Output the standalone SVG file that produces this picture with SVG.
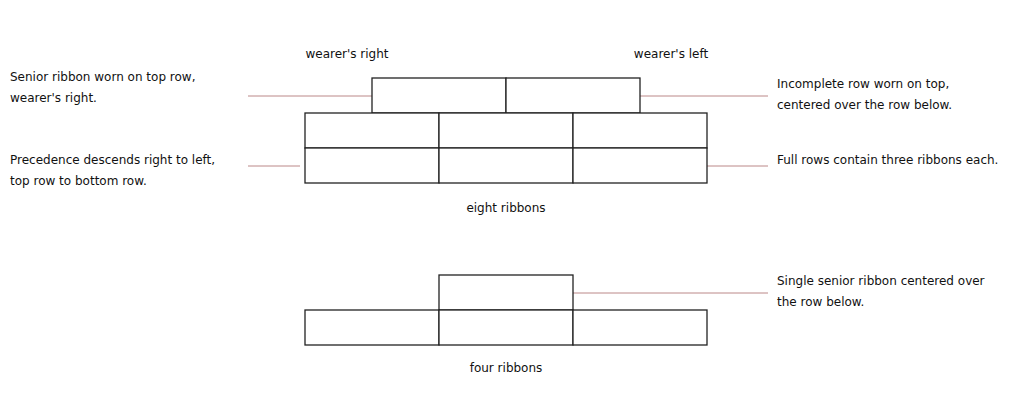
<svg xmlns="http://www.w3.org/2000/svg" width="1024" height="408" viewBox="0 0 1024 408">
<style>
text{font-family:"DejaVu Sans",Verdana,sans-serif;font-size:12px;fill:#111}
.r{fill:#fff;stroke:#222;stroke-width:1.3}
.c{stroke:#b88;stroke-width:1;fill:none}
.m{text-anchor:middle}
</style>
<rect width="1024" height="408" fill="#fff"/>
<g id="connectors">
<line class="c" x1="248" y1="96" x2="372" y2="96"/>
<line class="c" x1="248" y1="166" x2="300" y2="166"/>
<line class="c" x1="640" y1="96" x2="768" y2="96"/>
<line class="c" x1="707" y1="166" x2="768" y2="166"/>
<line class="c" x1="573" y1="293" x2="768" y2="293"/>
</g>
<g id="eight">
<rect class="r" x="372" y="78" width="134" height="35"/>
<rect class="r" x="506" y="78" width="134" height="35"/>
<rect class="r" x="305" y="113" width="134" height="35"/>
<rect class="r" x="439" y="113" width="134" height="35"/>
<rect class="r" x="573" y="113" width="134" height="35"/>
<rect class="r" x="305" y="148" width="134" height="35"/>
<rect class="r" x="439" y="148" width="134" height="35"/>
<rect class="r" x="573" y="148" width="134" height="35"/>
<text class="m" x="506" y="212">eight ribbons</text>
</g>
<g id="four">
<rect class="r" x="439" y="275" width="134" height="35"/>
<rect class="r" x="305" y="310" width="134" height="35"/>
<rect class="r" x="439" y="310" width="134" height="35"/>
<rect class="r" x="573" y="310" width="134" height="35"/>
<text class="m" x="506" y="372">four ribbons</text>
</g>
<g id="labels">
<text class="m" x="347" y="58">wearer's right</text>
<text class="m" x="671" y="58">wearer's left</text>
<text x="10" y="81">Senior ribbon worn on top row,</text>
<text x="10" y="102">wearer's right.</text>
<text x="10" y="164">Precedence descends right to left,</text>
<text x="10" y="185">top row to bottom row.</text>
<text x="777" y="88">Incomplete row worn on top,</text>
<text x="777" y="109">centered over the row below.</text>
<text x="777" y="164">Full rows contain three ribbons each.</text>
<text x="777" y="285">Single senior ribbon centered over</text>
<text x="777" y="306">the row below.</text>
</g>
</svg>
